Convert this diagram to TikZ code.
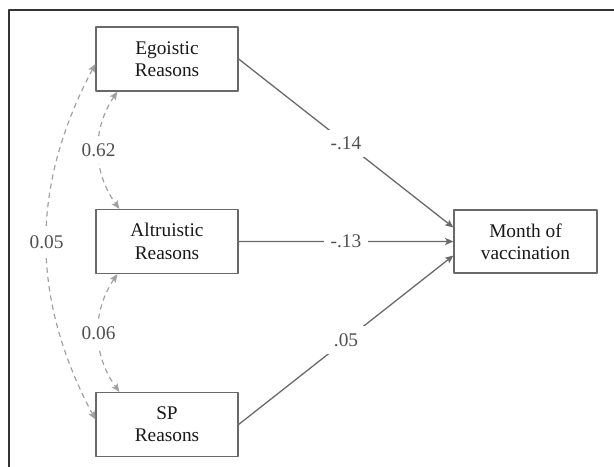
\documentclass[tikz,border=0pt]{standalone}
\usepackage{fontspec}
\setmainfont{Liberation Serif}
\usetikzlibrary{arrows.meta}
\definecolor{linegray}{RGB}{105,105,105}
\definecolor{dashgray}{RGB}{160,160,160}
\definecolor{labelgray}{RGB}{80,80,80}
\begin{document}
\begin{tikzpicture}[font=\fontsize{16.5}{19}\selectfont, line join=round, >={Stealth[length=7pt, width=6pt, inset=1.5pt]},
    varbox/.style={draw=linegray, line width=1.1pt, fill=white, text=black!90, align=center, minimum width=4.26cm, minimum height=1.92cm},
    effect/.style={->, draw=linegray, line width=1.1pt},
    covar/.style={<->, draw=dashgray, line width=1pt, dash pattern=on 4.5pt off 3.5pt},
    coef/.style={fill=white, text=labelgray, inner sep=6pt}]
            \useasboundingbox (0,0) rectangle (18.42,14.01);
            \path
            (5.01,12.24) coordinate (E)
            ++ (-90:5.475) coordinate (A)
            ++ (-90:5.49) coordinate (S)
            (15.765,6.765) coordinate (M)
            ;
            \draw[line width=1.3pt, black!80] (0.27,-0.5)--(0.27,13.71)--(18.9,13.71);
            \node[varbox] (ego) at (E) {Egoistic\\Reasons};
            \node[varbox] (alt) at (A) {Altruistic\\Reasons};
            \node[varbox] (sp) at (S) {SP\\Reasons};
            \node[varbox, minimum width=4.29cm, minimum height=1.89cm] (month) at (M) {Month of\\vaccination};
            \draw[effect] (ego.east)--(month.169) node[coef, pos=0.5] {-.14};
            \draw[effect] (alt.east)--(month.west) node[coef, pos=0.5] {-.13};
            \draw[effect] (sp.east)--(month.191) node[coef, pos=0.5] {.05};
            \draw[covar] ([xshift=0.66cm]ego.south west) to[bend right=35] node[coef] {0.62} ([xshift=0.72cm]alt.north west);
            \draw[covar] ([xshift=0.66cm]alt.south west) to[bend right=35] node[coef] {0.06} ([xshift=0.72cm]sp.north west);
            \draw[covar] (ego.184) to[bend right=28] node[coef] {0.05} (sp.176);
        \end{tikzpicture}
\end{document}
